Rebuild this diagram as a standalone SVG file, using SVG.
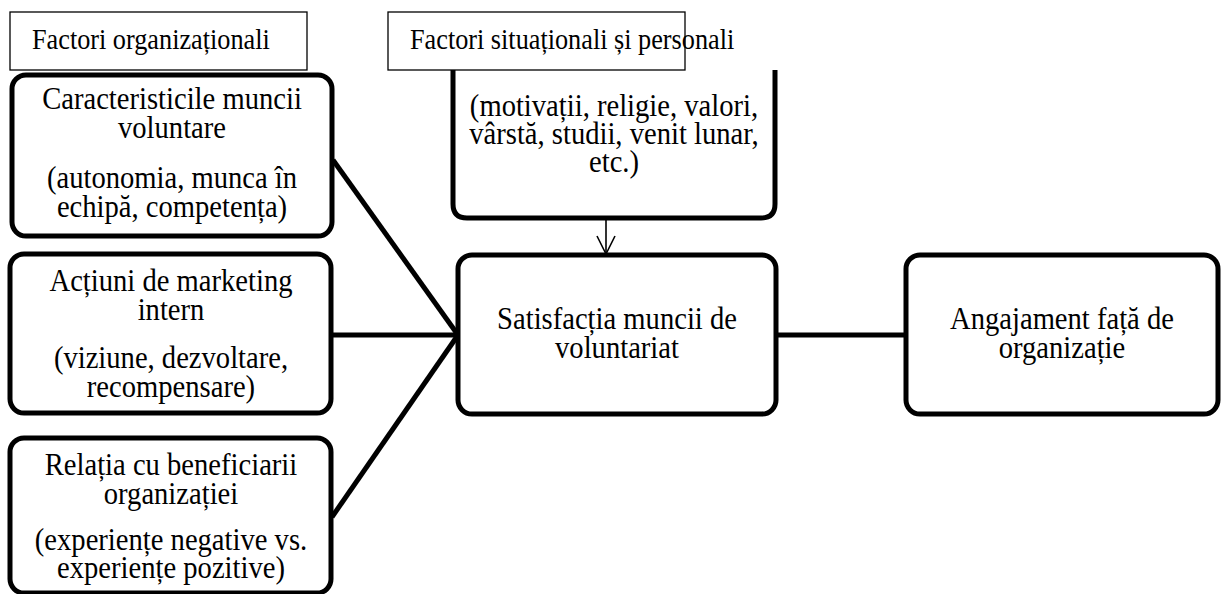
<svg xmlns="http://www.w3.org/2000/svg" width="1221" height="594" viewBox="0 0 1221 594">
<defs>
<style>
.box{fill:#fff;stroke:#000;stroke-width:5}
.lbl{fill:#fff;stroke:#000;stroke-width:1.3}
.t{font-size:32.5px;fill:#000;text-anchor:middle}
.tl{font-size:30px;fill:#000}
.c{stroke:#000;stroke-width:5;fill:none}
.a{stroke:#000;stroke-width:1.6;fill:none}
</style>
</defs>
<g id="connectors">
<line class="c" x1="333" y1="160" x2="458" y2="335"/>
<line class="c" x1="332" y1="335" x2="458" y2="335"/>
<line class="c" x1="332" y1="517" x2="458" y2="335"/>
<line class="c" x1="776" y1="335" x2="906" y2="335"/>
<line class="a" x1="606" y1="219" x2="606" y2="254"/>
<polyline class="a" points="597,236 606,254 615,236"/>
</g>
<g font-family="Liberation Serif, Times New Roman, serif">
<g id="node-situational">
<path class="box" d="M453,70 V204 Q453,218 467,218 H761 Q775,218 775,204 V70"/>
<text class="t" transform="translate(614,116) scale(0.88,1)">(motivații, religie, valori,</text>
<text class="t" transform="translate(614,144) scale(0.88,1)">vârstă, studii, venit lunar,</text>
<text class="t" transform="translate(614,172) scale(0.88,1)">etc.)</text>
</g>
<g id="label-organizational">
<rect class="lbl" x="10" y="12" width="297" height="58"/>
<text class="tl" transform="translate(32,49) scale(0.875,1)">Factori organizaționali</text>
</g>
<g id="label-situational">
<rect class="lbl" x="388" y="12" width="297" height="58"/>
<text class="tl" transform="translate(410,49) scale(0.875,1)">Factori situaționali și personali</text>
</g>
<g id="node-caracteristici">
<rect class="box" x="12" y="75" width="320" height="161" rx="14"/>
<text class="t" transform="translate(172,109) scale(0.88,1)">Caracteristicile muncii</text>
<text class="t" transform="translate(172,138) scale(0.88,1)">voluntare</text>
<text class="t" transform="translate(172,188) scale(0.88,1)">(autonomia, munca în</text>
<text class="t" transform="translate(172,217) scale(0.88,1)">echipă, competența)</text>
</g>
<g id="node-marketing">
<rect class="box" x="10" y="254" width="321" height="159" rx="14"/>
<text class="t" transform="translate(171,291) scale(0.88,1)">Acțiuni de marketing</text>
<text class="t" transform="translate(171,320) scale(0.88,1)">intern</text>
<text class="t" transform="translate(171,368) scale(0.88,1)">(viziune, dezvoltare,</text>
<text class="t" transform="translate(171,397) scale(0.88,1)">recompensare)</text>
</g>
<g id="node-relatia">
<rect class="box" x="10" y="438" width="321" height="155" rx="14"/>
<text class="t" transform="translate(171,475) scale(0.88,1)">Relația cu beneficiarii</text>
<text class="t" transform="translate(171,504) scale(0.88,1)">organizației</text>
<text class="t" transform="translate(171,550) scale(0.88,1)">(experiențe negative vs.</text>
<text class="t" transform="translate(171,578) scale(0.88,1)">experiențe pozitive)</text>
</g>
<g id="node-satisfactia">
<rect class="box" x="458" y="255" width="318" height="159" rx="14"/>
<text class="t" transform="translate(617,329) scale(0.88,1)">Satisfacția muncii de</text>
<text class="t" transform="translate(617,358) scale(0.88,1)">voluntariat</text>
</g>
<g id="node-angajament">
<rect class="box" x="906" y="255" width="312" height="159" rx="14"/>
<text class="t" transform="translate(1062,329) scale(0.88,1)">Angajament față de</text>
<text class="t" transform="translate(1062,358) scale(0.88,1)">organizație</text>
</g>
</g>
</svg>
